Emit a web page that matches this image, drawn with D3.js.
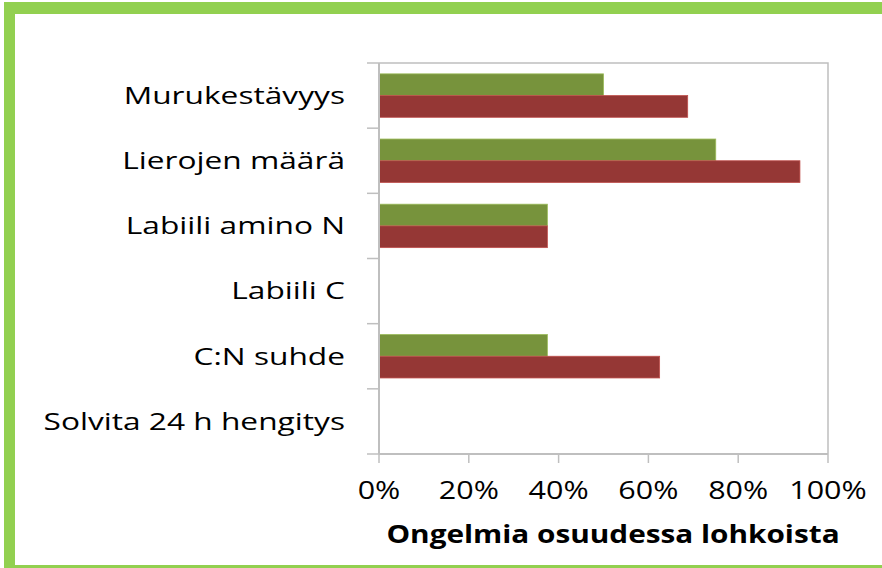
<!DOCTYPE html>
<html>
<head>
<meta charset="utf-8">
<script src="https://cdnjs.cloudflare.com/ajax/libs/d3/7.8.5/d3.min.js"></script>
<style>
body { margin: 0; background: #fff; }
text { font-family: "Open Sans", sans-serif; fill: #000; }
</style>
</head>
<body>
<div id="chart"></div>
<script>
var width = 882, height = 568;

// categories top to bottom
var categories = ["Murukestävyys", "Lierojen määrä", "Labiili amino N", "Labiili C", "C:N suhde", "Solvita 24 h hengitys"];
var greenValues = [0.50, 0.75, 0.375, 0, 0.375, 0];
var redValues = [0.6875, 0.9375, 0.375, 0, 0.625, 0];
var xTicks = [0, 0.2, 0.4, 0.6, 0.8, 1.0];
var xTitle = "Ongelmia osuudessa lohkoista";

var svg = d3.select("#chart").append("svg").attr("width", width).attr("height", height);

// green frame
svg.append("rect").attr("x", 4).attr("y", 2).attr("width", 11).attr("height", 566).attr("fill", "#92D050");
svg.append("rect").attr("x", 4).attr("y", 2).attr("width", 878).attr("height", 12).attr("fill", "#92D050");
svg.append("rect").attr("x", 4).attr("y", 565).attr("width", 878).attr("height", 3).attr("fill", "#92D050");

var pLeft = 379, pRight = 828, pTop = 63, pBottom = 454;

var x = d3.scaleLinear().domain([0, 1]).range([pLeft, pRight]);
var y = d3.scaleBand().domain(categories).range([pTop, pBottom]);
var inner = d3.scaleBand().domain(["g", "r"]).range([0, y.bandwidth() / 1.5]);
var off = (y.bandwidth() - y.bandwidth() / 1.5) / 2;

// plot frame (top + right)
svg.append("path")
  .attr("d", "M" + pLeft + "," + pTop + "H" + pRight + "V" + pBottom)
  .attr("fill", "none").attr("stroke", "#BFBFBF").attr("stroke-width", 1.5);

var rows = categories.map(function(c, i) { return { cat: c, g: greenValues[i], r: redValues[i] }; });

svg.selectAll(".barG").data(rows).enter().append("rect")
  .attr("class", "barG")
  .attr("x", x(0))
  .attr("y", function(d) { return y(d.cat) + off + inner("g"); })
  .attr("width", function(d) { return x(d.g) - x(0); })
  .attr("height", inner.bandwidth())
  .attr("fill", "#77933C").attr("stroke", "#9BBB59").attr("stroke-width", 0.8);

svg.selectAll(".barR").data(rows).enter().append("rect")
  .attr("class", "barR")
  .attr("x", x(0))
  .attr("y", function(d) { return y(d.cat) + off + inner("r"); })
  .attr("width", function(d) { return x(d.r) - x(0); })
  .attr("height", inner.bandwidth())
  .attr("fill", "#953735").attr("stroke", "#C0504D").attr("stroke-width", 0.8);

// y axis
var yAxis = svg.append("g").attr("transform", "translate(" + pLeft + ",0)");
yAxis.append("line").attr("x1", 0).attr("x2", 0).attr("y1", pTop).attr("y2", pBottom)
  .attr("stroke", "#BFBFBF").attr("stroke-width", 2);
var yEdges = categories.map(function(c) { return y(c); }).concat([pBottom]);
yAxis.selectAll(".yt").data(yEdges).enter().append("line")
  .attr("x1", -12).attr("x2", 0)
  .attr("y1", function(d) { return d; }).attr("y2", function(d) { return d; })
  .attr("stroke", "#BFBFBF").attr("stroke-width", 1.5);
// the original font is wide, so labels are stretched horizontally
yAxis.selectAll(".yl").data(categories).enter().append("text")
  .attr("transform", function(d) { return "translate(-34," + (y(d) + y.bandwidth() / 2) + ") scale(1.32,1)"; })
  .attr("dy", "0.35em")
  .attr("text-anchor", "end")
  .style("font-size", "24px")
  .text(function(d) { return d; });

// x axis
var xAxis = svg.append("g").attr("transform", "translate(0," + pBottom + ")");
xAxis.append("line").attr("x1", pLeft).attr("x2", pRight).attr("y1", 0).attr("y2", 0)
  .attr("stroke", "#BFBFBF").attr("stroke-width", 2);
xAxis.selectAll(".xt").data(xTicks).enter().append("line")
  .attr("x1", function(d) { return x(d); }).attr("x2", function(d) { return x(d); })
  .attr("y1", 0).attr("y2", 9)
  .attr("stroke", "#BFBFBF").attr("stroke-width", 1.5);
xAxis.selectAll(".xl").data(xTicks).enter().append("text")
  .attr("transform", function(d) { return "translate(" + x(d) + ",45) scale(1.22,1)"; })
  .attr("text-anchor", "middle")
  .style("font-size", "25px")
  .text(function(d) { return d3.format(".0%")(d); });

svg.append("text")
  .attr("transform", "translate(613,543) scale(1.19,1)")
  .attr("text-anchor", "middle")
  .style("font-size", "25px").style("font-weight", "bold")
  .text(xTitle);
</script>
</body>
</html>
